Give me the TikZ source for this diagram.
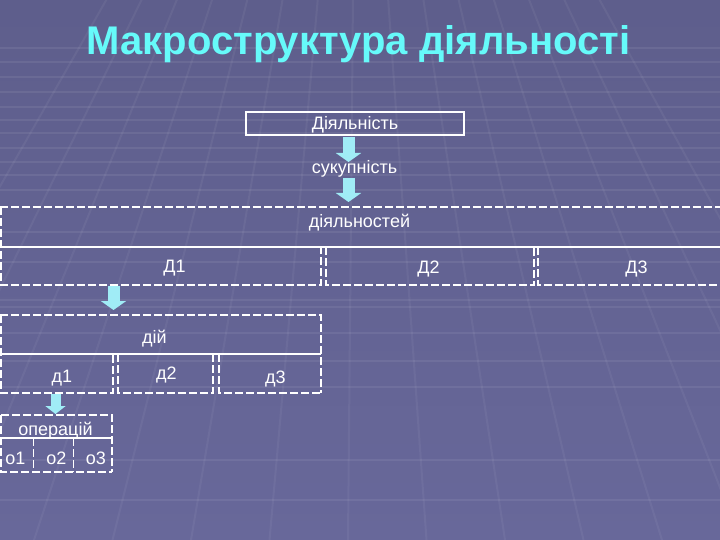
\documentclass[tikz,border=0pt]{standalone}
\usepackage{fontspec}
\setmainfont{Liberation Sans}
\usetikzlibrary{arrows.meta}
\definecolor{bgtop}{RGB}{94,94,140}
\definecolor{bgmid}{RGB}{80,80,122}
\definecolor{bgbot}{RGB}{104,104,154}
\definecolor{titlecyan}{RGB}{102,250,250}
\definecolor{arrowcyan}{RGB}{160,236,246}
\tikzset{
  lbl/.style={text=white, font=\fontsize{18}{20}\selectfont, inner sep=0pt, anchor=base},
  dsh/.style={draw=white, line width=1.1pt, dash pattern=on 8pt off 3pt},
  sld/.style={draw=white, line width=1.1pt},
  blk/.style={line width=12pt, draw=arrowcyan, -{Triangle[width=25pt,length=9pt]}},
  blksmall/.style={line width=10pt, draw=arrowcyan, -{Triangle[width=20pt,length=8pt]}},
  gridline/.style={white, opacity=0.07, line width=2pt},
}
\begin{document}
\begin{tikzpicture}[x=1pt,y=-1pt]
% background
\shade[top color=bgtop, middle color=bgmid, bottom color=bgbot] (0,0) rectangle (720,540);
\useasboundingbox (0,0) rectangle (720,540);
\begin{scope}
\clip (0,0) rectangle (720,540);
\foreach \yy in {48,62,77,92,107,120,133,148,162,175,190,232,262,300,307,333,361,387,460,500}
  \draw[gridline] (0,\yy) -- (720,\yy);
\foreach \k in {-3,...,11}
  \draw[gridline, opacity=0.05] (357,-440) -- ({34+78.5*\k},540);
\end{scope}
% title
\node[text=titlecyan, font=\fontsize{40}{44}\bfseries, inner sep=0pt, anchor=base] (title) at (358.5,55) {Макроструктура діяльності};
% top box
\node[sld, minimum width=218pt, minimum height=23pt, inner sep=0pt] (actbox) at (355,123.5) {};
\node[lbl] (act) at (355,130) {Діяльність};
\node[lbl] (suk) at (354.5,174) {сукупність};
% arrows top
\coordinate (a1s) at (348.5,137);
\coordinate (a1e) at (348.5,162);
\coordinate (a2s) at (348.5,178);
\coordinate (a2e) at (348.5,202);
\draw[blk] (a1s) -- (a1e);
\draw[blk] (a2s) -- (a2e);
% group 1
\draw[dsh] (0,207) -- (720,207);
\draw[sld] (0,247) -- (720,247);
\draw[dsh] (1,207) -- (1,285);
\draw[dsh] (0,285) -- (321,285) -- (321,247);
\draw[dsh] (326,247) -- (326,285) -- (534,285) -- (534,247);
\draw[dsh] (538,247) -- (538,285) -- (720,285);
\node[lbl] (dial) at (359.5,228) {діяльностей};
\node[lbl] (D1) at (174.5,272) {Д1};
\node[lbl] (D2) at (428.5,273) {Д2};
\node[lbl] (D3) at (636.5,273) {Д3};
% arrow 3
\coordinate (a3s) at (113.5,286);
\coordinate (a3e) at (113.5,310);
\draw[blk] (a3s) -- (a3e);
% group 2
\draw[dsh] (0,315) -- (321,315) -- (321,393);
\draw[sld] (0,354) -- (321,354);
\draw[dsh] (1,315) -- (1,393) -- (113,393) -- (113,354);
\draw[dsh] (118,354) -- (118,393) -- (213,393) -- (213,354);
\draw[dsh] (219,354) -- (219,393) -- (321,393);
\node[lbl] (dii) at (154.5,343) {дій};
\node[lbl] (d1) at (62,382) {д1};
\node[lbl] (d2) at (166.5,379) {д2};
\node[lbl] (d3) at (275.5,383) {д3};
% arrow 4
\coordinate (a4s) at (55.5,394);
\coordinate (a4e) at (55.5,414);
\draw[blksmall] (a4s) -- (a4e);
% group 3
\draw[dsh] (1,415) -- (112,415) -- (112,472);
\draw[sld] (0,438) -- (112,438);
\draw[dsh] (1,415) -- (1,472) -- (112,472);
\draw[dsh] (33.5,438) -- (33.5,472);
\draw[dsh] (73.5,438) -- (73.5,472);
\node[lbl] (oper) at (55.5,435) {операцій};
\node[lbl] (o1) at (15.5,464) {о1};
\node[lbl] (o2) at (56.5,464) {о2};
\node[lbl] (o3) at (96,464) {о3};
\end{tikzpicture}
\end{document}
